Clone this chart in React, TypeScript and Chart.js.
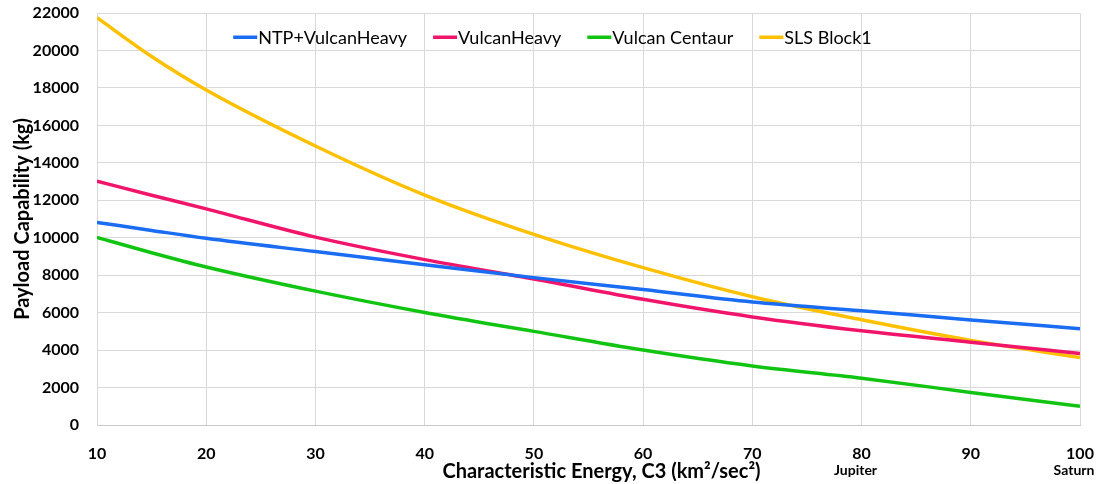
import React, { useEffect, useRef } from "react";
import { Chart, registerables } from "chart.js";

Chart.register(...registerables);

const c3Values = [10, 15, 20, 30, 40, 50, 60, 70, 80, 90, 100];
const ntpVulcanHeavy = [10820, 10390, 9970, 9260, 8560, 7870, 7230, 6570, 6100, 5610, 5140];
const vulcanHeavy = [13020, 12270, 11540, 10030, 8830, 7800, 6710, 5770, 5030, 4420, 3820];
const vulcanCentaur = [10020, 9200, 8440, 7150, 6010, 5000, 4000, 3150, 2500, 1740, 1000];
const slsBlock1 = [21750, 19680, 17890, 14900, 12280, 10180, 8400, 6850, 5620, 4520, 3600];

const seriesNames = ["NTP+VulcanHeavy", "VulcanHeavy", "Vulcan Centaur", "SLS Block1"];
const seriesColors = ["#1a6cf2", "#f0156a", "#12c412", "#ffc000"];
const xTicks = [10, 20, 30, 40, 50, 60, 70, 80, 90, 100];
const subLabels: [number, string][] = [[80, "Jupiter"], [100, "Saturn"]];
const xTitle = "Characteristic Energy, C3 (km\u00b2/sec\u00b2)";
const yTitle = "Payload Capability (kg)";

const FONT = "Lato";

export default function App() {
  const ref = useRef<HTMLCanvasElement | null>(null);
  useEffect(() => {
    document.body.style.margin = "0";
    const all = [ntpVulcanHeavy, vulcanHeavy, vulcanCentaur, slsBlock1];
    const extrasPlugin = {
      id: "extras",
      afterDraw(chart: any) {
        const ctx = chart.ctx;
        const xs = chart.scales.x;
        const area = chart.chartArea;
        ctx.save();
        ctx.font = `bold 14px ${FONT}`;
        ctx.fillStyle = "#000";
        ctx.textAlign = "center";
        ctx.textBaseline = "middle";
        subLabels.forEach(([v, t]) => {
          ctx.fillText(t, xs.getPixelForValue(v) - 6, 470);
        });
        ctx.font = `bold 20px ${FONT}`;
        ctx.fillText(xTitle, (area.left + area.right) / 2 + 13, 472);
        ctx.font = `18px ${FONT}`;
        ctx.textAlign = "left";
        const lineLen = 24;
        const gap = 1;
        const spacing = 26;
        const widths = seriesNames.map((n) => ctx.measureText(n).width);
        const total = widths.reduce((a, w) => a + lineLen + gap + w, 0) + spacing * (seriesNames.length - 1);
        let x = (area.left + area.right) / 2 - 36 - total / 2;
        const y = area.top + 24;
        seriesNames.forEach((n, i) => {
          ctx.fillStyle = seriesColors[i];
          ctx.fillRect(x, y - 1.5, lineLen, 3.5);
          x += lineLen + gap;
          ctx.fillStyle = "#000";
          ctx.fillText(n, x, y + 1);
          x += widths[i] + spacing;
        });
        ctx.restore();
      },
    };
    const chart = new Chart(ref.current!, {
      type: "line",
      data: {
        datasets: all.map((vals, i) => ({
          label: seriesNames[i],
          data: c3Values.map((x, j) => ({ x, y: vals[j] })),
          borderColor: seriesColors[i],
          backgroundColor: seriesColors[i],
          borderWidth: 3.5,
          pointRadius: 0,
          cubicInterpolationMode: "monotone" as const,
          fill: false,
        })),
      },
      options: {
        animation: false,
        responsive: true,
        maintainAspectRatio: false,
        layout: { padding: { top: 13, right: 24, bottom: 0, left: 7 } },
        plugins: {
          tooltip: { enabled: false },
          legend: { display: false },
        },
        scales: {
          x: {
            type: "linear",
            min: 10,
            max: 100,
            afterFit: (s: any) => {
              s.height = 59;
              s.paddingLeft = 0;
              s.paddingRight = 0;
            },
            afterBuildTicks: (s: any) => { s.ticks = xTicks.map((v) => ({ value: v })); },
            ticks: {
              font: { family: FONT, size: 16, weight: "bold" },
              color: "#000",
              padding: 19,
              maxRotation: 0,
              callback: (v: any) => String(v),
            },
            grid: { color: "#d9d9d9", drawTicks: false },
            border: { color: "#c8c8c8" },
          },
          y: {
            min: 0,
            max: 22000,
            afterFit: (s: any) => {
              s.width = 90;
              s.paddingTop = 0;
              s.paddingBottom = 0;
            },
            ticks: {
              stepSize: 2000,
              font: { family: FONT, size: 16, weight: "bold" },
              color: "#000",
              padding: 18,
              callback: (v: any) => String(v),
            },
            grid: { color: "#d9d9d9", drawTicks: false },
            border: { color: "#d9d9d9" },
            title: {
              display: true,
              text: yTitle,
              font: { family: FONT, size: 20, weight: "bold" },
              color: "#000",
            },
          },
        },
      },
      plugins: [extrasPlugin],
    });
    return () => chart.destroy();
  }, []);
  return (
    <div style={{ position: "relative", width: 1104, height: 484 }}>
      <canvas ref={ref} />
    </div>
  );
}
